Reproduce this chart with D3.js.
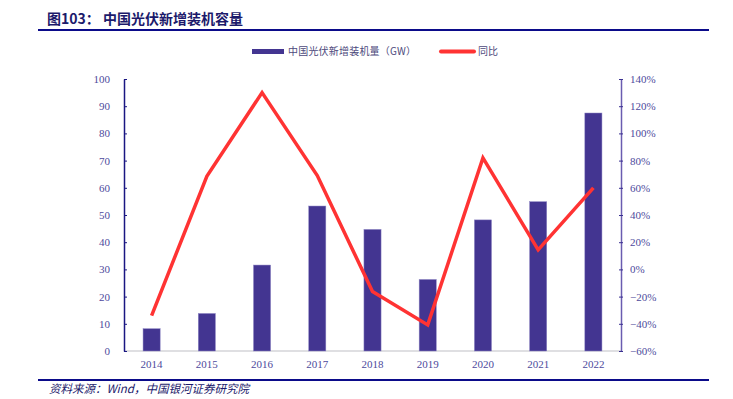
<!DOCTYPE html>
<html lang="zh">
<head>
<meta charset="utf-8">
<title>中国光伏新增装机容量</title>
<style>
  body { margin: 0; background: #fff; }
  .axis text { font-family: "Liberation Serif", "DejaVu Serif", serif; font-size: 11px; fill: #4d4a9c; }
  .cn { font-family: "Noto Sans CJK SC", sans-serif; }
</style>
<script src="https://cdn.jsdelivr.net/npm/d3@7"></script>
</head>
<body>
<script>
var years = ["2014", "2015", "2016", "2017", "2018", "2019", "2020", "2021", "2022"];
var capacity = [8.2, 13.8, 31.6, 53.3, 44.7, 26.3, 48.2, 54.9, 87.5];
var yoy = [-0.34, 0.685, 1.30, 0.69, -0.163, -0.408, 0.82, 0.144, 0.60];
var leftTicks = [0, 10, 20, 30, 40, 50, 60, 70, 80, 90, 100];
var rightTicks = [-0.6, -0.4, -0.2, 0, 0.2, 0.4, 0.6, 0.8, 1.0, 1.2, 1.4];

var width = 733, height = 399;
var plotL = 124, plotR = 621, plotT = 79, plotB = 351;

var svg = d3.select("body").append("svg")
    .attr("width", width)
    .attr("height", height);

// title + rules
svg.append("text")
    .attr("class", "cn")
    .attr("x", 47).attr("y", 24)
    .attr("font-size", 14).attr("font-weight", "bold")
    .attr("fill", "#1c1a6b")
    .text("图103：  中国光伏新增装机容量");

svg.append("line")
    .attr("x1", 38).attr("x2", 709).attr("y1", 30).attr("y2", 30)
    .attr("stroke", "#0b0b8a").attr("stroke-width", 2.2);

svg.append("line")
    .attr("x1", 38).attr("x2", 709).attr("y1", 380).attr("y2", 380)
    .attr("stroke", "#0b0b8a").attr("stroke-width", 2.2);

svg.append("text")
    .attr("class", "cn")
    .attr("x", 49).attr("y", 393)
    .attr("font-size", 11.5).attr("font-style", "italic")
    .attr("fill", "#1c1a6b")
    .text("资料来源：Wind，中国银河证券研究院");

// scales
var x = d3.scaleBand().domain(years).range([plotL, plotR])
    .paddingInner(0.69).paddingOuter(0.345);
var yL = d3.scaleLinear().domain([0, 100]).range([plotB, plotT]);
var yR = d3.scaleLinear().domain([-0.6, 1.4]).range([plotB, plotT]);

// baseline
svg.append("line")
    .attr("x1", plotL).attr("x2", plotR).attr("y1", plotB).attr("y2", plotB)
    .attr("stroke", "#d4d4d8").attr("stroke-width", 1.5);

// bars
svg.selectAll("rect.bar")
    .data(capacity)
    .enter().append("rect")
    .attr("class", "bar")
    .attr("x", function(d, i) { return x(years[i]); })
    .attr("y", function(d) { return yL(d); })
    .attr("width", x.bandwidth())
    .attr("height", function(d) { return plotB - yL(d); })
    .attr("fill", "#433591")
    .attr("stroke", "#8e86c4").attr("stroke-width", 0.5);

// line
var line = d3.line()
    .x(function(d, i) { return x(years[i]) + x.bandwidth() / 2; })
    .y(function(d) { return yR(d); });

svg.append("path")
    .datum(yoy)
    .attr("d", line)
    .attr("fill", "none")
    .attr("stroke", "#ff3333")
    .attr("stroke-width", 3.5)
    .attr("stroke-linejoin", "miter");

// axes
var axL = svg.append("g")
    .attr("class", "axis")
    .attr("transform", "translate(" + plotL + ",0)")
    .call(d3.axisLeft(yL).tickValues(leftTicks).tickSizeInner(-3).tickSizeOuter(0).tickPadding(14));
axL.select(".domain").attr("stroke", "#1a1682").attr("stroke-width", 1.5);
axL.selectAll(".tick line").attr("stroke", "#1a1682");

var axR = svg.append("g")
    .attr("class", "axis")
    .attr("transform", "translate(" + plotR + ",0)")
    .call(d3.axisRight(yR).tickValues(rightTicks).tickSizeInner(2).tickSizeOuter(0).tickPadding(7)
      .tickFormat(d3.format(".0%")));
axR.select(".domain").attr("stroke", "#6a5cb0").attr("stroke-width", 1.5);
axR.selectAll(".tick line").attr("x1", -2).attr("x2", 2).attr("stroke", "#3a3090");

var axX = svg.append("g")
    .attr("class", "axis")
    .attr("transform", "translate(0," + plotB + ")")
    .call(d3.axisBottom(x).tickSize(0).tickPadding(9));
axX.select(".domain").remove();

// legend
var lg = svg.append("g").attr("class", "legend");
lg.append("rect")
    .attr("x", 252).attr("y", 49).attr("width", 32).attr("height", 5)
    .attr("fill", "#433591");
lg.append("text")
    .attr("class", "cn")
    .attr("x", 288).attr("y", 55)
    .attr("font-size", 10).attr("letter-spacing", 0.2)
    .attr("fill", "#4d4a7c")
    .text("中国光伏新增装机量（GW）");
lg.append("line")
    .attr("x1", 441).attr("x2", 474).attr("y1", 51.5).attr("y2", 51.5)
    .attr("stroke", "#ff3333").attr("stroke-width", 4).attr("stroke-linecap", "round");
lg.append("text")
    .attr("class", "cn")
    .attr("x", 478).attr("y", 55)
    .attr("font-size", 10)
    .attr("fill", "#4d4a7c")
    .text("同比");
</script>
</body>
</html>
